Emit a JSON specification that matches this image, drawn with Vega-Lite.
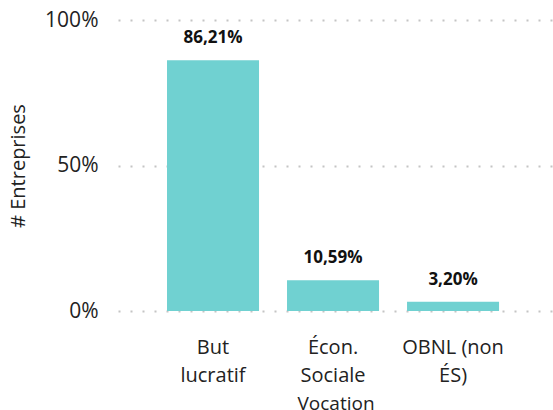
{
  "$schema": "https://vega.github.io/schema/vega-lite/v6.json",
  "autosize": "none",
  "padding": {"left": 118, "top": 20, "right": 0, "bottom": 99},
  "width": 435,
  "height": 291,
  "config": {
    "view": {"stroke": null},
    "font": "Open Sans",
    "locale": {"number": {"decimal": ",", "thousands": " ", "grouping": [3], "currency": ["", " €"]}},
    "axis": {"labelFont": "Open Sans", "titleFont": "Open Sans", "labelColor": "#222222", "titleColor": "#222222", "titleFontWeight": "normal"}
  },
  "data": {"values": [
    {"vocation": "But lucratif", "part": 0.8621},
    {"vocation": "Écon. Sociale", "part": 0.1059},
    {"vocation": "OBNL (non ÉS)", "part": 0.0320}
  ]},
  "encoding": {
    "x": {
      "field": "vocation", "type": "nominal", "sort": null,
      "scale": {"paddingInner": 0.2333, "paddingOuter": 0.429, "align": 0.476},
      "axis": {
        "title": "Vocation", "titleFontSize": 19, "titlePadding": 9,
        "labelAngle": 0, "labelFontSize": 20, "labelLineHeight": 28, "labelPadding": 26,
        "labelBaseline": "top",
        "labelExpr": "datum.value == 'OBNL (non ÉS)' ? ['OBNL (non', 'ÉS)'] : split(datum.value, ' ')",
        "domain": false, "ticks": false, "grid": false
      }
    },
    "y": {
      "field": "part", "type": "quantitative",
      "scale": {"domain": [0, 1]},
      "axis": {
        "title": "# Entreprises", "titleFontSize": 20, "titlePadding": 16,
        "format": ".0%", "values": [0, 0.5, 1], "labelFontSize": 21, "labelPadding": 20,
        "domain": false, "ticks": false,
        "grid": true, "gridColor": "#C4C4C4", "gridDash": [2, 10], "gridWidth": 2
      }
    }
  },
  "layer": [
    {"mark": {"type": "bar", "color": "#70D1D1"}},
    {
      "mark": {"type": "text", "baseline": "bottom", "dy": -13, "fontSize": 17, "fontWeight": "bold", "color": "#111111"},
      "encoding": {"text": {"field": "part", "type": "quantitative", "format": ".2%"}}
    }
  ]
}
